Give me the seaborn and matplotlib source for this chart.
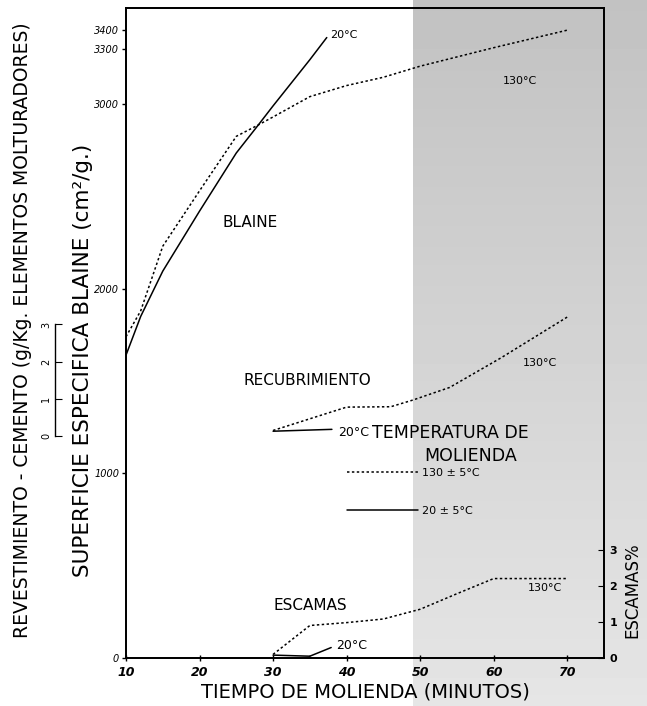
import numpy as np
import pandas as pd
import matplotlib
matplotlib.use('Agg')
import matplotlib.pyplot as plt
import seaborn as sns

sns.set_style("ticks")
plt.rcParams['font.family'] = ['DejaVu Sans']
for k in ['text.color', 'axes.labelcolor', 'xtick.color', 'ytick.color', 'axes.edgecolor']:
    plt.rcParams[k] = 'black'

# Blaine (cm2/g) vs tiempo de molienda (min)
blaine_t20 = [10, 12, 15, 20, 25, 28, 30, 35, 37.3]
blaine_20 = [1640, 1850, 2095, 2420, 2735, 2887, 2990, 3240, 3360]
blaine_t130 = [10, 12, 15, 20, 25, 28, 30, 35, 40, 45, 50, 60, 70]
blaine_130 = [1740, 1880, 2230, 2530, 2825, 2887, 2930, 3040, 3100, 3145, 3205, 3305, 3400]

# Recubrimiento (g/Kg)
recub_t20 = [30, 38]
recub_20 = [0.12, 0.17]
recub_t130 = [30, 40, 46, 49, 54, 61, 70]
recub_130 = [0.14, 0.77, 0.78, 0.96, 1.3, 2.1, 3.2]

# Escamas (%)
escamas_t20 = [30, 35]
escamas_20 = [0.08, 0.05]
escamas_t130 = [30, 35, 40, 45, 50, 55, 60, 70]
escamas_130 = [0.1, 0.9, 0.98, 1.08, 1.35, 1.78, 2.2, 2.2]

x_ticks = [10, 20, 30, 40, 50, 60, 70]
y_ticks = [0, 1000, 2000, 3000, 3300, 3400]
small_ticks = [0, 1, 2, 3]

W, H = 647, 706
fig = plt.figure(figsize=(W / 100, H / 100), dpi=100)

# fondo gris del escaneo (lado derecho)
bg = fig.add_axes([413 / W, 0, 1 - 413 / W, 1], zorder=-5)
grad = np.linspace(0.76, 0.90, 200).reshape(-1, 1)
bg.imshow(grad, cmap='gray', vmin=0, vmax=1, aspect='auto')
bg.axis('off')

ax = fig.add_axes([126 / W, (H - 658) / H, (604 - 126) / W, (658 - 8) / H])
ax.patch.set_alpha(0)

dot = (0, (1.6, 1.6))
sns.lineplot(x=blaine_t20, y=blaine_20, ax=ax, color='black', lw=1.1)
sns.lineplot(x=blaine_t130, y=blaine_130, ax=ax, color='black', lw=1.1, linestyle=dot)

ax.set_xlim(10, 75)
ax.set_ylim(0, 3520)
ax.set_xticks(x_ticks)
ax.set_yticks(y_ticks)
ax.set_xticklabels(x_ticks, fontsize=9, fontstyle='italic', fontweight='bold')
ax.set_yticklabels(y_ticks, fontsize=7, fontstyle='italic')
ax.tick_params(axis='x', direction='inout', length=5, width=1)
ax.tick_params(axis='y', direction='out', length=3, width=1, pad=2)
for s in ax.spines.values():
    s.set_linewidth(1.3)

ax.set_xlabel('TIEMPO DE MOLIENDA (MINUTOS)', fontsize=14, labelpad=2)
ax.set_ylabel('SUPERFICIE ESPECIFICA BLAINE (cm²/g.)', fontsize=15.5)
ax.yaxis.set_label_coords(-0.068, 0.458)

# eje recubrimiento (izquierda, desplazado)
ax_r = ax.twinx()
sns.lineplot(x=recub_t20, y=recub_20, ax=ax_r, color='black', lw=1.1)
sns.lineplot(x=recub_t130, y=recub_130, ax=ax_r, color='black', lw=1.1, linestyle=dot)
ax_r.set_ylim(-6.0, 11.54)
ax_r.spines['right'].set_visible(False)
ax_r.spines['top'].set_visible(False)
ax_r.spines['bottom'].set_visible(False)
ax_r.spines['left'].set_visible(True)
ax_r.spines['left'].set_position(('outward', 51))
ax_r.spines['left'].set_bounds(0, 3)
ax_r.spines['left'].set_linewidth(1)
ax_r.yaxis.set_ticks_position('left')
ax_r.yaxis.set_label_position('left')
ax_r.set_yticks(small_ticks)
ax_r.set_yticklabels(small_ticks, fontsize=7, rotation=90, va='center')
ax_r.tick_params(axis='y', direction='in', length=5, pad=3)
ax_r.set_ylabel('REVESTIMIENTO - CEMENTO (g/Kg. ELEMENTOS MOLTURADORES)', fontsize=13.5)
ax_r.yaxis.set_label_coords(-0.197, 0.505)

# eje escamas (derecha)
ax_e = ax.twinx()
sns.lineplot(x=escamas_t20, y=escamas_20, ax=ax_e, color='black', lw=1.1)
sns.lineplot(x=escamas_t130, y=escamas_130, ax=ax_e, color='black', lw=1.1, linestyle=dot)
ax_e.plot([35, 37.9], [escamas_20[-1], 0.29], color='black', lw=1.1)
ax_e.set_ylim(0, 18.0)
ax_e.set_yticks(small_ticks)
ax_e.set_yticklabels(small_ticks, fontsize=8, fontweight='bold')
ax_e.tick_params(axis='y', direction='in', length=4, pad=4)
for s in ax_e.spines.values():
    s.set_linewidth(1.3)
ax_e.set_ylabel('ESCAMAS%', fontsize=12, rotation=90)
ax_e.yaxis.set_label_coords(1.04, 0.105)

# rótulos
ax.text(37.7, 3375, '20°C', fontsize=8, va='center')
ax.text(63.6, 3125, '130°C', fontsize=8, ha='center', va='center')
ax.text(26.9, 2360, 'BLAINE', fontsize=11, ha='center', va='center')
ax.text(34.6, 1503, 'RECUBRIMIENTO', fontsize=11, ha='center', va='center')
ax.text(66.3, 1600, '130°C', fontsize=8, ha='center', va='center')
ax.text(38.8, 1220, '20°C', fontsize=9, va='center')
ax.text(43.4, 1220, 'TEMPERATURA DE', fontsize=12.5, va='center')
ax.text(56.8, 1096, 'MOLIENDA', fontsize=12.5, ha='center', va='center')
ax.text(35.0, 282, 'ESCAMAS', fontsize=11, ha='center', va='center')
ax.text(38.6, 65, '20°C', fontsize=9, va='center')
ax.text(67.0, 380, '130°C', fontsize=8, ha='center', va='center')

# leyenda de temperaturas
h1, = ax.plot([], [], color='black', lw=1.1, linestyle=dot)
h2, = ax.plot([], [], color='black', lw=1.1)
leg = ax.legend([h1, h2], ['130 ± 5°C', '20 ± 5°C'], loc='upper left',
                bbox_to_anchor=(0.462, 0.293), frameon=False, fontsize=8,
                handlelength=6.4, handletextpad=0.4, labelspacing=2.55,
                borderpad=0, borderaxespad=0, labelcolor='black')

fig.savefig('out.png', dpi=100)
